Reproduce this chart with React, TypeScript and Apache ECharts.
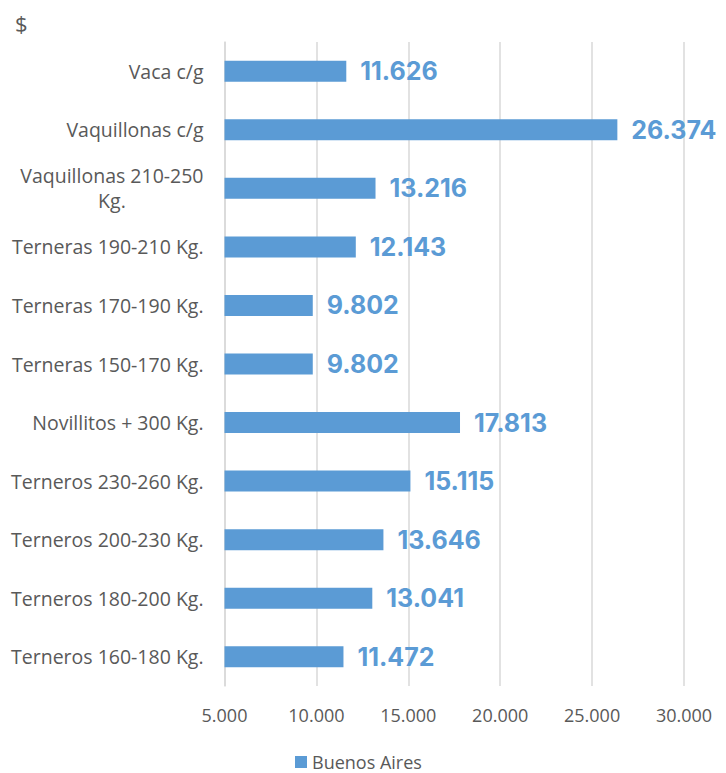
import React, { useEffect, useRef } from "react";
import * as echarts from "echarts";

const categories = [
  "Terneros 160-180 Kg.",
  "Terneros 180-200 Kg.",
  "Terneros 200-230 Kg.",
  "Terneros 230-260 Kg.",
  "Novillitos + 300 Kg.",
  "Terneras 150-170 Kg.",
  "Terneras 170-190 Kg.",
  "Terneras 190-210 Kg.",
  "Vaquillonas 210-250\nKg.",
  "Vaquillonas c/g",
  "Vaca c/g",
];
const values = [11472, 13041, 13646, 15115, 17813, 9802, 9802, 12143, 13216, 26374, 11626];
const seriesName = "Buenos Aires";
const xMin = 5000;
const xMax = 30000;
const xStep = 5000;

function fmt(v: number): string {
  return String(Math.round(v)).replace(/\B(?=(\d{3})+(?!\d))/g, ".");
}

export default function App() {
  const ref = useRef<HTMLDivElement>(null);
  useEffect(() => {
    if (!ref.current) return;
    const chart = echarts.init(ref.current, undefined, { renderer: "svg" });
    chart.setOption({
      animation: false,
      textStyle: { fontFamily: "Open Sans" },
      graphic: [
        {
          type: "text",
          left: 7,
          top: 4,
          style: { text: "$", fontSize: 22, fill: "#595959", fontFamily: "Open Sans" },
        },
      ],
      legend: {
        bottom: -3,
        left: 282,
        itemWidth: 12,
        itemHeight: 12,
        icon: "rect",
        itemGap: 6,
        textStyle: { color: "#595959", fontSize: 18, fontFamily: "Open Sans" },
        data: [seriesName],
      },
      grid: { left: 213, right: 42, top: 34, bottom: 87, containLabel: false },
      xAxis: {
        type: "value",
        min: xMin,
        max: xMax,
        interval: xStep,
        axisLine: { show: false },
        axisTick: { show: false },
        splitLine: { show: true, lineStyle: { color: "#D9D9D9", width: 1.5 } },
        axisLabel: {
          color: "#595959",
          fontSize: 18,
          margin: 20,
          formatter: (v: number) => fmt(v),
        },
      },
      yAxis: {
        type: "category",
        data: categories,
        axisLine: { show: true, lineStyle: { color: "#D9D9D9", width: 1.5 } },
        axisTick: { show: false },
        axisLabel: {
          color: "#595959",
          fontSize: 19.5,
          margin: 21,
          lineHeight: 25,
          formatter: (v: string) =>
            v
              .split("\n")
              .map((s) => "{a|" + s + "}")
              .join("\n"),
          rich: { a: { align: "center", color: "#595959", fontSize: 19.5, lineHeight: 25 } },
        },
      },
      series: [
        {
          name: seriesName,
          type: "bar",
          data: values,
          barWidth: 21,
          itemStyle: { color: "#5B9BD5" },
          label: {
            show: true,
            position: "right",
            distance: 14,
            color: "#5B9BD5",
            fontSize: 25,
            fontWeight: "bold",
            fontFamily: "Inter",
            formatter: (p: any) => fmt(p.value),
          },
        },
      ],
    });
    return () => chart.dispose();
  }, []);
  return <div ref={ref} style={{ width: 718, height: 765 }} />;
}
